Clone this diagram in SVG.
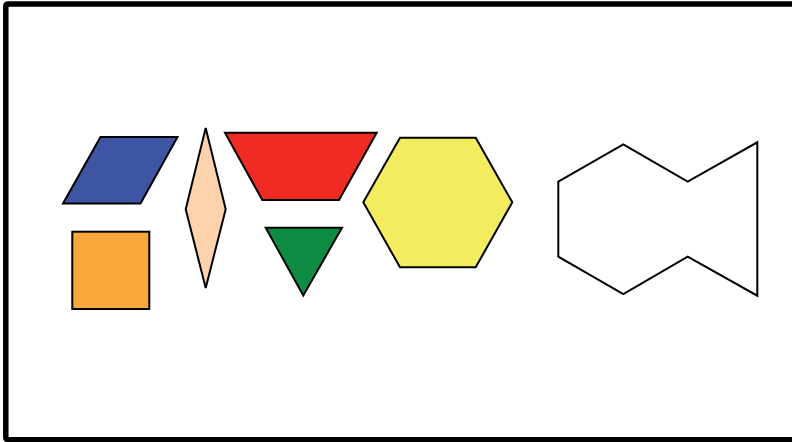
<svg xmlns="http://www.w3.org/2000/svg" width="792" height="442" viewBox="0 0 792 442">
<style>
.s{stroke:#000;stroke-width:2;stroke-linejoin:miter}
</style>
<rect width="792" height="442" fill="#fff"/>
<rect id="frame" x="5.8" y="3.9" width="800" height="435.8" rx="2" fill="none" stroke="#000" stroke-width="5.5"/>
<g id="parallelogram"><polygon class="s" fill="#3d55a3" points="100.5,137 177.5,137 140.5,203.5 63,203.5"/></g>
<g id="square"><rect class="s" fill="#f8a83b" x="72.3" y="231.7" width="77" height="77.3"/></g>
<g id="rhombus"><polygon class="s" fill="#fdd3ae" points="205.7,128 225.7,209.3 205.7,288 185.7,209.3"/></g>
<g id="trapezoid"><polygon class="s" fill="#ef2b24" points="225,132.7 376.7,132.7 339,200 262.3,200"/></g>
<g id="triangle"><polygon class="s" fill="#0f8c43" points="265.7,227.7 342,227.7 303.3,295.5"/></g>
<g id="hexagon"><polygon class="s" fill="#f4ec5f" points="400,137.7 475.7,137.7 512.3,202.3 475.7,267.3 400,267.3 363.3,202.3"/></g>
<g id="outline"><polygon class="s" fill="#fff" points="558.3,181.7 623.3,144.3 687.7,181.7 757.3,142.3 757.3,295.7 687.7,256.7 623.3,294 558.3,256.7"/></g>
<g id="connectors"></g>
</svg>
